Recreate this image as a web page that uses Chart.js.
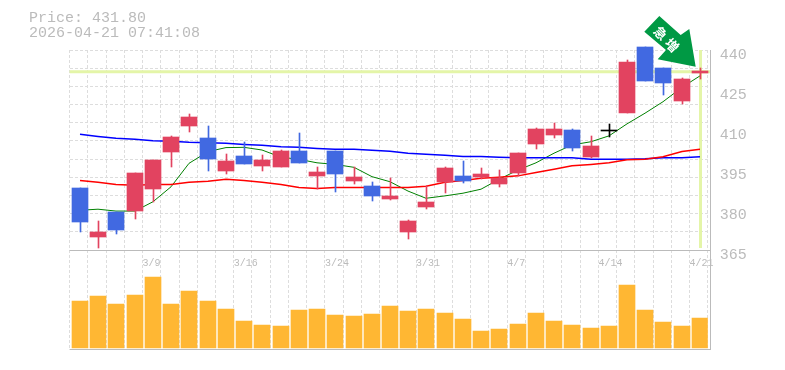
<!DOCTYPE html>
<html>
<head>
<meta charset="utf-8">
<title>Price chart</title>
<style>
  html, body { margin: 0; padding: 0; background: #fff; }
  canvas { display: block; }
</style>
<script src="https://cdn.jsdelivr.net/npm/chart.js@4/dist/chart.umd.min.js"></script>
</head>
<body>
<canvas id="priceChart" width="785" height="370"></canvas>
<script>
const categories = ['3/3','3/4','3/5','3/6','3/9','3/10','3/11','3/12','3/13','3/16','3/17','3/18','3/19','3/23','3/24','3/25','3/26','3/27','3/30','3/31','4/1','4/2','4/3','4/6','4/7','4/8','4/9','4/10','4/13','4/14','4/15','4/16','4/17','4/20','4/21'];
const dateTicks = ['3/9','3/16','3/24','3/31','4/7','4/14','4/21'];
const priceTicks = [440, 425, 410, 395, 380, 365];

const opens  = [388.3,369.9,379.3,379.6,387.9,401.8,411.5,407.0,394.6,400.3,396.5,396.1,402.1,392.8,402.1,390.9,389.0,384.1,371.8,381.1,390.5,392.8,392.4,389.8,393.9,404.8,408.1,410.0,399.9,409.7,416.4,441.1,433.3,420.9,431.5];
const closes = [375.5,371.8,372.5,393.9,398.8,407.4,414.9,399.1,398.4,397.3,398.8,402.1,397.6,394.3,393.5,392.4,385.3,385.3,375.9,383.0,395.8,390.9,393.5,392.0,401.4,410.4,410.4,403.3,404.0,409.7,435.5,428.4,427.6,429.1,432.2];
const highs  = [388.3,375.9,379.3,393.9,398.8,407.8,416.0,411.5,401.0,405.5,400.6,402.5,408.9,396.1,402.1,396.1,390.5,392.0,376.3,389.0,396.1,398.4,395.8,395.0,401.4,410.8,412.6,410.4,407.8,412.3,436.3,441.1,433.3,429.5,433.3];
const lows   = [371.8,365.8,371.0,376.6,383.0,396.1,409.3,394.6,393.5,397.3,394.6,396.1,397.6,387.9,386.8,389.8,383.4,383.8,369.1,380.4,386.4,390.1,391.6,388.6,392.8,402.9,407.0,402.1,399.5,407.4,416.4,428.4,423.1,419.8,429.1];

const maShort = [379.9,380.3,379.6,379.6,383.1,388.7,397.5,401.9,403.4,403.5,402.5,399.8,399.0,397.7,397.1,396.0,392.5,390.6,387.1,384.4,385.3,386.3,387.8,391.5,395.0,397.7,401.3,404.4,405.6,407.8,412.3,416.3,420.6,426.0,430.3];
const maMid   = [391.1,390.4,389.6,389.3,389.6,389.6,390.4,390.8,391.5,391.1,390.4,389.6,388.4,388.1,388.4,388.4,388.4,388.4,388.4,388.9,390.4,391.1,391.9,392.3,392.8,394.1,395.3,396.6,397.1,397.7,398.8,399.0,400.0,401.9,402.8];
const maLong  = [408.4,407.6,406.9,406.5,406.0,405.8,405.4,405.2,405.0,404.6,404.3,403.7,403.5,403.1,402.8,402.8,402.4,402.0,401.3,400.9,400.5,400.1,400.1,399.8,399.6,399.6,399.6,399.6,399.0,399.0,399.0,399.2,399.6,399.6,400.0];

const volumes = [470,520,440,530,710,440,570,470,390,270,230,220,380,390,330,320,340,420,370,390,350,290,170,190,240,350,270,230,200,220,630,380,260,220,300];

const lastPrice = 431.8;
const priceLabel = 'Price: 431.80';
const timeLabel = '2026-04-21 07:41:08';
const badgeLabel = ['急', '増'];

const candleColor = (i) => {
  if (opens[i] === closes[i]) return '#000000';
  return closes[i] > opens[i] ? '#e24360' : '#4169e1';
};
const candleColors = categories.map((c, i) => candleColor(i));

// Marks sit a little right of the slot centre in the original
const markX = (x) => Math.round(x + 1.28);

// Snap marks to whole pixels so the candles stay crisp
const snapBars = {
  id: 'snapBars',
  afterDatasetsUpdate(chart) {
    chart.data.datasets.forEach((ds, idx) => {
      chart.getDatasetMeta(idx).data.forEach(el => {
        if (ds.type !== 'bar') {
          el.x = markX(el.x);
          return;
        }
        el.x = ds.isWick ? markX(el.x) + 0.5 : markX(el.x);
        el.y = Math.round(el.y);
        el.base = Math.round(el.base);
      });
    });
  }
};

// Last price cross hair and panel frame, under the candles
const backdrop = {
  id: 'backdrop',
  beforeDatasetsDraw(chart) {
    const { ctx, scales, chartArea } = chart;
    const yLast = scales.y.getPixelForValue(lastPrice);
    const xLast = markX(scales.x.getPixelForValue(categories.length - 1)) + 0.5;
    const yPanel = scales.y.getPixelForValue(priceTicks[priceTicks.length - 1]);
    const frameRight = chartArea.right + 2.7;
    ctx.save();
    ctx.strokeStyle = '#e4f5a8';
    ctx.lineWidth = 3;
    ctx.beginPath();
    ctx.moveTo(chartArea.left, yLast);
    ctx.lineTo(frameRight, yLast);
    ctx.moveTo(xLast, chartArea.top);
    ctx.lineTo(xLast, yPanel - 2);
    ctx.stroke();
    ctx.strokeStyle = '#bbbbbb';
    ctx.lineWidth = 1;
    ctx.beginPath();
    ctx.moveTo(chartArea.left, Math.round(yPanel) + 0.5);
    ctx.lineTo(frameRight, Math.round(yPanel) + 0.5);
    ctx.moveTo(chartArea.left, chartArea.bottom - 0.5);
    ctx.lineTo(frameRight, chartArea.bottom - 0.5);
    ctx.moveTo(frameRight, chartArea.top);
    ctx.lineTo(frameRight, chartArea.bottom);
    ctx.stroke();
    ctx.restore();
  }
};

// Header text, date labels and the green badge
const overlay = {
  id: 'overlay',
  afterDraw(chart) {
    const { ctx, scales } = chart;
    ctx.save();
    ctx.fillStyle = '#bbbbbb';
    ctx.textBaseline = 'middle';
    ctx.textAlign = 'left';
    ctx.font = '15px "Liberation Mono"';
    ctx.fillText(priceLabel, 29, 18);
    ctx.fillText(timeLabel, 29, 33);

    ctx.font = '10px "Liberation Mono"';
    const step = scales.x.width / categories.length;
    const yPanel = scales.y.getPixelForValue(priceTicks[priceTicks.length - 1]);
    dateTicks.forEach(label => {
      const x = scales.x.getPixelForValue(categories.indexOf(label)) - step / 2;
      ctx.fillText(label, x, yPanel + 13);
    });

    ctx.fillStyle = '#009944';
    ctx.beginPath();
    ctx.moveTo(659.3, 16);
    ctx.lineTo(644.3, 31.7);
    ctx.lineTo(666, 50);
    ctx.lineTo(657.7, 59.3);
    ctx.lineTo(695.7, 66.7);
    ctx.lineTo(689.3, 29);
    ctx.lineTo(680.7, 35);
    ctx.closePath();
    ctx.fill();

    ctx.fillStyle = '#ffffff';
    ctx.font = 'bold 13px "Noto Sans CJK JP"';
    ctx.textAlign = 'center';
    [[660.5, 33], [672, 45]].forEach((pos, i) => {
      ctx.save();
      ctx.translate(pos[0], pos[1]);
      ctx.rotate(Math.PI / 4);
      ctx.fillText(badgeLabel[i], 0, 0);
      ctx.restore();
    });
    ctx.restore();
  }
};

new Chart(document.getElementById('priceChart'), {
  data: {
    labels: categories,
    datasets: [
      { type: 'line', data: maShort, borderColor: '#008000', borderWidth: 1, pointRadius: 0, tension: 0, yAxisID: 'y', order: 5 },
      { type: 'line', data: maLong, borderColor: '#0000ff', borderWidth: 1.5, pointRadius: 0, tension: 0, yAxisID: 'y', order: 4 },
      { type: 'line', data: maMid, borderColor: '#ff0000', borderWidth: 1.5, pointRadius: 0, tension: 0, yAxisID: 'y', order: 3 },
      { type: 'bar', isWick: true, data: categories.map((c, i) => [lows[i], highs[i]]), backgroundColor: candleColors, barThickness: 1, grouped: false, clip: false, yAxisID: 'y', order: 2 },
      { type: 'bar', data: categories.map((c, i) => [opens[i], closes[i]]), backgroundColor: candleColors, barThickness: 16, minBarLength: 1, grouped: false, clip: false, yAxisID: 'y', order: 1 },
      { type: 'bar', data: volumes, backgroundColor: '#ffb733', barThickness: 16, grouped: false, yAxisID: 'yVol', order: 1 }
    ]
  },
  options: {
    responsive: false,
    animation: false,
    events: [],
    layout: { padding: { left: 69.6, top: 50, right: 0, bottom: 20 } },
    plugins: { legend: { display: false }, tooltip: { enabled: false } },
    scales: {
      x: {
        offset: true,
        ticks: { display: false },
        border: { display: false, dash: [3, 2] },
        grid: { color: '#dddddd', lineWidth: 1, drawTicks: false, offset: true }
      },
      y: {
        position: 'right',
        min: 327.5,
        max: 440,
        afterBuildTicks: (scale) => { scale.ticks = priceTicks.map(value => ({ value })); },
        afterFit: (scale) => { scale.width = 77.2; },
        ticks: {
          color: '#bbbbbb',
          font: { family: '"Liberation Mono"', size: 15 },
          labelOffset: 5,
          padding: 4,
          autoSkip: false
        },
        border: { display: false },
        grid: { display: false }
      },
      yGrid: {
        position: 'left',
        min: -5.5,
        max: 11,
        afterBuildTicks: (scale) => {
          scale.ticks = Array.from({ length: 12 }, (v, i) => ({ value: i }));
        },
        ticks: { display: false },
        border: { display: false, dash: [3, 2] },
        grid: { color: '#dddddd', lineWidth: 1, drawTicks: false }
      },
      yVol: {
        display: false,
        min: -20,
        max: 2980
      }
    }
  },
  plugins: [snapBars, backdrop, overlay]
});
</script>
</body>
</html>
